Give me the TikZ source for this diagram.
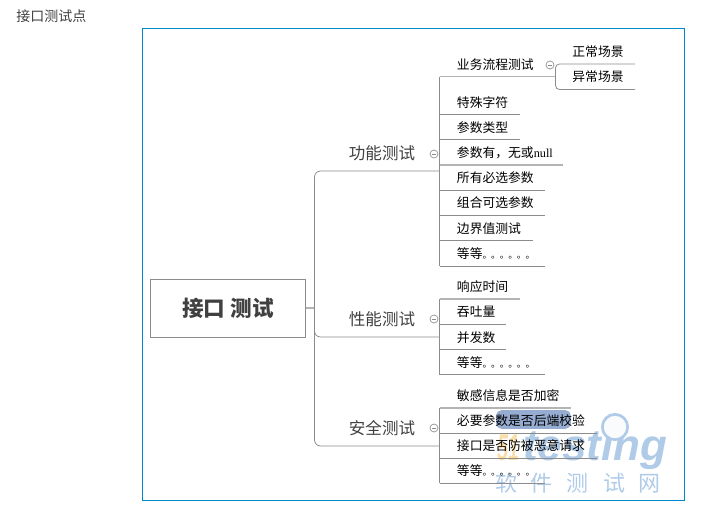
\documentclass[tikz,border=0pt]{standalone}
\usepackage{fontspec}
\usepackage{xcolor}
\setmainfont{Noto Sans CJK SC}
\newfontfamily\latinfont{Liberation Serif}
\newfontfamily\markfont{Liberation Sans}
\usetikzlibrary{positioning, calc}
\definecolor{frameblue}{RGB}{0,136,204}
\definecolor{stemgray}{RGB}{140,140,140}
\definecolor{softgray}{RGB}{180,180,180}
\definecolor{textgray}{RGB}{64,64,64}
\definecolor{barblue}{RGB}{150,172,208}
\definecolor{markblue}{RGB}{176,203,232}
\definecolor{markorange}{RGB}{250,222,170}
\newcommand{\stops}{\hbox{\fontsize{7pt}{8pt}\selectfont\addfontfeature{LetterSpace=-8}。。。。。。}}
\tikzset{
  x=0.75pt, y=-0.75pt,
  root/.style={rectangle, draw=stemgray, line width=0.7pt, minimum width=116pt, minimum height=43.5pt, inner sep=0pt, font=\fontsize{16.2pt}{18pt}\selectfont\bfseries, text=textgray},
  topic/.style={anchor=center, inner sep=0pt, font=\fontsize{12.4pt}{15pt}\selectfont, text=textgray},
  item/.style={anchor=south west, inner sep=0pt, text width=#1*0.75pt, minimum height=17.6pt, font=\fontsize{9.6pt}{12pt}\selectfont, text=black, execute at begin node={\hspace*{12.9pt}}},
  leaf/.style={anchor=center, inner sep=0pt, font=\fontsize{9.6pt}{12pt}\selectfont, text=black},
  fold/.style={circle, draw=stemgray, line width=0.5pt, minimum size=6pt, inner sep=0pt, path picture={\draw[stemgray, line width=0.5pt] ([xshift=1.2pt]path picture bounding box.west) -- ([xshift=-1.2pt]path picture bounding box.east);}},
  branch/.style={draw=stemgray, line width=0.6pt},
  softbranch/.style={draw=softgray, line width=1.1pt},
  curved/.style={draw=stemgray, line width=0.6pt, rounded corners=4.5pt},
  bracket/.style={draw=stemgray, line width=0.6pt, rounded corners=3pt},
}
\begin{document}
\begin{tikzpicture}
\useasboundingbox (0,0) rectangle (717,507);
\node (title) [anchor=west, inner sep=0pt, font=\fontsize{10.5pt}{12pt}\selectfont, text=textgray] at (16,16) {接口测试点};
\node (frame) [rectangle, draw=frameblue, line width=0.8pt, minimum width=406.5pt, minimum height=354pt, inner sep=0pt, anchor=north west] at (142,28) {};
% watermark
\node (bar) [rectangle, fill=barblue, rounded corners=4pt, minimum width=56pt, minimum height=14pt, inner sep=0pt] at (533.5,419.5) {};
\node (wm51) [anchor=base west, inner sep=0pt, xscale=0.45, yscale=0.85, font=\markfont\fontsize{33pt}{34pt}\selectfont\bfseries\itshape, text=markorange] at (497,460) {51};
\node (wm) [anchor=base west, inner sep=0pt, font=\markfont\fontsize{33pt}{34pt}\selectfont\bfseries\itshape, text=markblue] at (523,460) {testing};
\node (lens) [circle, draw=markblue, line width=2pt, fill=white!92!markblue, minimum size=19pt, inner sep=0pt] at (615,427) {};
\node (wmcn) [anchor=center, inner sep=0pt, font=\fontsize{16.5pt}{18pt}\selectfont, text=markblue] at (578,483) {软\hspace{10.5pt}件\hspace{10.5pt}测\hspace{10.5pt}试\hspace{10.5pt}网};

\node (r) [root] at (228,308) {\raisebox{-1pt}{接口 测试}};
\coordinate (hub) at (314.5,308);
\draw[softbranch] (r.east) -- (hub);

% functional
\node (t1) [topic] at (382,153.5) {功能测试};
\node (t1f) [fold] at (434,154) {};
\node (a0) [item=115.5] at (439.5,76.5) {业务流程测试};
\node (a0f) [fold] at (550,65) {};
\node (a1) [item=79.5] at (439.5,114.5) {特殊字符};
\node (a2) [item=79.5] at (439.5,139.5) {参数类型};
\node (a3) [item=122.5] at (439.5,165) {参数有，无或{\latinfont\fontsize{9.2pt}{12pt}\selectfont null}};
\node (a4) [item=104.5] at (439.5,190) {所有必选参数};
\node (a5) [item=104.5] at (439.5,215) {组合可选参数};
\node (a6) [item=92.5] at (439.5,240.5) {边界值测试};
\node (a7) [item=104.5] at (439.5,266) {等等\stops};
\node (b1) [leaf] at (598,52) {正常场景};
\node (b2) [leaf] at (598,77) {异常场景};
\coordinate (b1l) at (635,64);
\coordinate (b2l) at (635,89.5);
\draw[branch] (a0.south west) -- (a7.south west);
\draw[softbranch] (a0.south west) -- (a0.south east);
\draw[branch] (a1.south west) -- (a1.south east);
\draw[branch] (a2.south west) -- (a2.south east);
\draw[softbranch] (a3.south west) -- (a3.south east);
\draw[branch] (a4.south west) -- (a4.south east);
\draw[branch] (a5.south west) -- (a5.south east);
\draw[branch] (a6.south west) -- (a6.south east);
\draw[branch] (a7.south west) -- (a7.south east);
\draw[bracket] (b1l) -- (555.5,64) -- (555.5,89.5) -- (b2l);

% performance
\node (t2) [topic] at (382,319.5) {性能测试};
\node (t2f) [fold] at (434,319) {};
\node (c0) [item=79.5] at (439.5,299) {响应时间};
\node (c1) [item=66] at (439.5,324) {吞吐量};
\node (c2) [item=66] at (439.5,349.5) {并发数};
\node (c3) [item=104.5] at (439.5,374.5) {等等\stops};
\draw[branch] (c0.south west) -- (c3.south west);
\draw[softbranch] (c0.south west) -- (c0.south east);
\draw[branch] (c1.south west) -- (c1.south east);
\draw[branch] (c2.south west) -- (c2.south east);
\draw[branch] (c3.south west) -- (c3.south east);

% security
\node (t3) [topic] at (382,428.5) {安全测试};
\node (t3f) [fold] at (434,428) {};
\node (d0) [item=130.5] at (439.5,408) {敏感信息是否加密};
\node (d1) [item=156.5] at (439.5,433) {必要参数是否后端校验};
\node (d2) [item=156.5] at (439.5,458) {接口是否防被恶意请求};
\node (d3) [item=104.5] at (439.5,483) {等等\stops};
\draw[branch] (d0.south west) -- (d3.south west);
\draw[softbranch] (d0.south west) -- (d0.south east);
\draw[branch] (d1.south west) -- (d1.south east);
\draw[branch] (d2.south west) -- (d2.south east);
\draw[branch] (d3.south west) -- (d3.south east);

\coordinate (m1) at (439.5,171);
\coordinate (m2) at (439.5,337);
\coordinate (m3) at (439.5,446);
\draw[curved] (m1) -- (314.5,171) -- (314.5,446) -- (m3);
\draw[curved] (314.5,320) -- (314.5,337) -- (m2);
\end{tikzpicture}
\end{document}
